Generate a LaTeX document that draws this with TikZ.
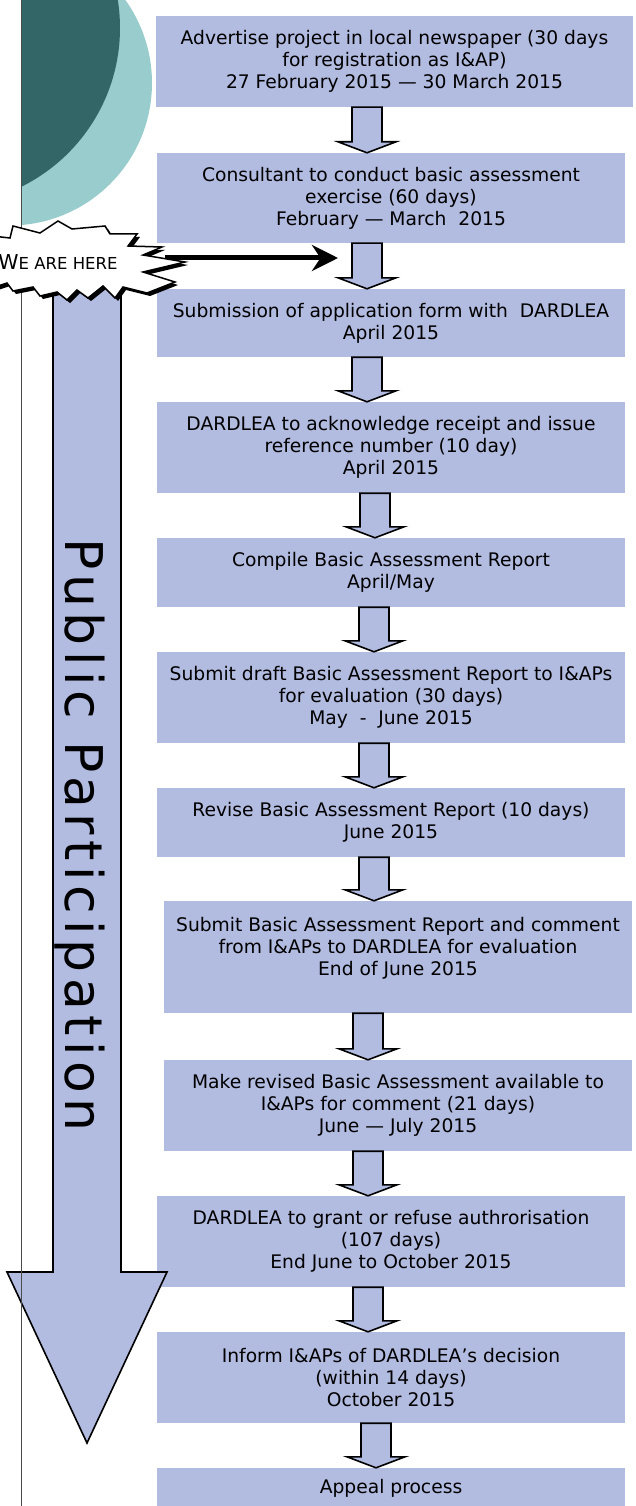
\documentclass[tikz,border=0pt]{standalone}
\usepackage{fontspec}
\setmainfont{DejaVu Sans}
\usetikzlibrary{calc,arrows.meta}
\definecolor{boxblue}{RGB}{178,187,224}
\definecolor{paleteal}{RGB}{153,204,204}
\definecolor{darkteal}{RGB}{51,102,102}
\newcommand{\burstpath}{(-20,262) -- (-8,236) -- (10,238) -- (13,226) -- (40,233) -- (58,221) -- (72,229)
  -- (105,226) -- (110,234) -- (137,234) -- (128,246) -- (162,247) -- (143,255) -- (185,262)
  -- (143,272) -- (175,282) -- (147,293) -- (123,287) -- (115,298) -- (103,286) -- (88,298)
  -- (77,290) -- (67,300) -- (57,292) -- (40,296) -- (33,287) -- (13,291) -- (7,283) -- (-8,288) -- cycle}
\tikzset{
  stagebox/.style={fill=boxblue, align=center, inner sep=0pt, minimum width=468pt,
    font=\fontsize{18.7}{22}\selectfont},
  blockarrow/.style={fill=boxblue, draw=black, line width=1.6pt},
  pointer/.style={line width=5pt, -{Stealth[length=26pt,width=26pt]}},
}
\begin{document}
\begin{tikzpicture}[x=1pt,y=-1pt]
  \useasboundingbox (0,0) rectangle (636,1506);

  % corner circles
  \begin{scope}
    \clip (21,0) rectangle (636,1506);
    \fill[paleteal] (9.5,83) circle[radius=142.5];
    \fill[darkteal] (-57,28) circle[radius=177];
  \end{scope}

  % the stages
  \node[stagebox, minimum width=477pt, minimum height=91pt] (advert) at (394.5,61.5)
    {Advertise project in local newspaper (30 days\\for registration as I\&AP)\\27 February 2015 — 30 March 2015};
  \node[stagebox, minimum height=90pt] (consult) at (391,198)
    {Consultant to conduct basic assessment\\exercise (60 days)\\February — March~ 2015};
  \node[stagebox, minimum height=68pt] (submit) at (391,323)
    {Submission of application form with~ DARDLEA\\April 2015};
  \node[stagebox, minimum height=91pt] (receipt) at (391,447.5)
    {DARDLEA to acknowledge receipt and issue\\reference number (10 day)\\April 2015};
  \node[stagebox, minimum height=69pt] (compile) at (391,572.5)
    {Compile Basic Assessment Report\\April/May};
  \node[stagebox, minimum height=91pt] (draft) at (391,697.5)
    {Submit draft Basic Assessment Report to I\&APs\\for evaluation (30 days)\\May~~-~~June 2015};
  \node[stagebox, minimum height=69pt] (revise) at (391,822.5)
    {Revise Basic Assessment Report (10 days)\\June 2015};
  \node[stagebox, minimum height=112pt] (comment) at (398,957)
    {Submit Basic Assessment Report and comment\\from I\&APs to DARDLEA for evaluation\\End of June 2015\\\mbox{}};
  \node[stagebox, minimum height=91pt] (available) at (398,1105.5)
    {Make revised Basic Assessment available to\\I\&APs for comment (21 days)\\June — July 2015};
  \node[stagebox, minimum height=91pt] (decision) at (391,1241.5)
    {DARDLEA to grant or refuse authrorisation\\(107 days)\\End June to October 2015};
  \node[stagebox, minimum height=91pt] (inform) at (391,1377.5)
    {Inform I\&APs of DARDLEA’s decision\\(within 14 days)\\October 2015};
  \node[stagebox, minimum height=40pt] (appeal) at (391,1488)
    {Appeal process};

  % block arrows between stages
  \foreach \a/\b/\cx in {advert/consult/367, consult/submit/367, submit/receipt/367,
      receipt/compile/375, compile/draft/374, draft/revise/374, revise/comment/374,
      comment/available/368, available/decision/368, decision/inform/368, inform/appeal/376}
    \draw[blockarrow] let \p1=(\a.south), \p2=(\b.north) in
      ({(\cx-15)*1pt},\y1) -- ({(\cx+15)*1pt},\y1) -- ({(\cx+15)*1pt},\y2+11pt)
      -- ({(\cx+29)*1pt},\y2+11pt) -- ({\cx*1pt},\y2) -- ({(\cx-29)*1pt},\y2+11pt)
      -- ({(\cx-15)*1pt},\y2+11pt) -- cycle;

  % public participation arrow
  \draw[blockarrow] (53,280) -- (121,280) -- (121,1272) -- (167,1272) -- (87,1443)
    -- (7,1272) -- (53,1272) -- cycle;
  \node[rotate=-90, anchor=base, inner sep=0pt,
    font=\fontsize{52}{60}\selectfont\addfontfeature{LetterSpace=10.5}] (title) at (65,835)
    {Public Participation};

  \draw[gray!60!black, line width=1pt] (21,0) -- (21,1506);

  % we are here
  \coordinate (burst tip) at (165,258);
  \coordinate (target) at (338,258);
  \draw[pointer] (burst tip) -- (target);
  \fill[black, shift={(3,3)}] \burstpath;
  \draw[fill=white, line width=1.5pt, line join=miter] \burstpath;
  \node[font=\fontsize{20.5}{24}\selectfont] (here) at (58,262)
    {W{\fontsize{16.5}{20}\selectfont E ARE HERE}};
\end{tikzpicture}
\end{document}
